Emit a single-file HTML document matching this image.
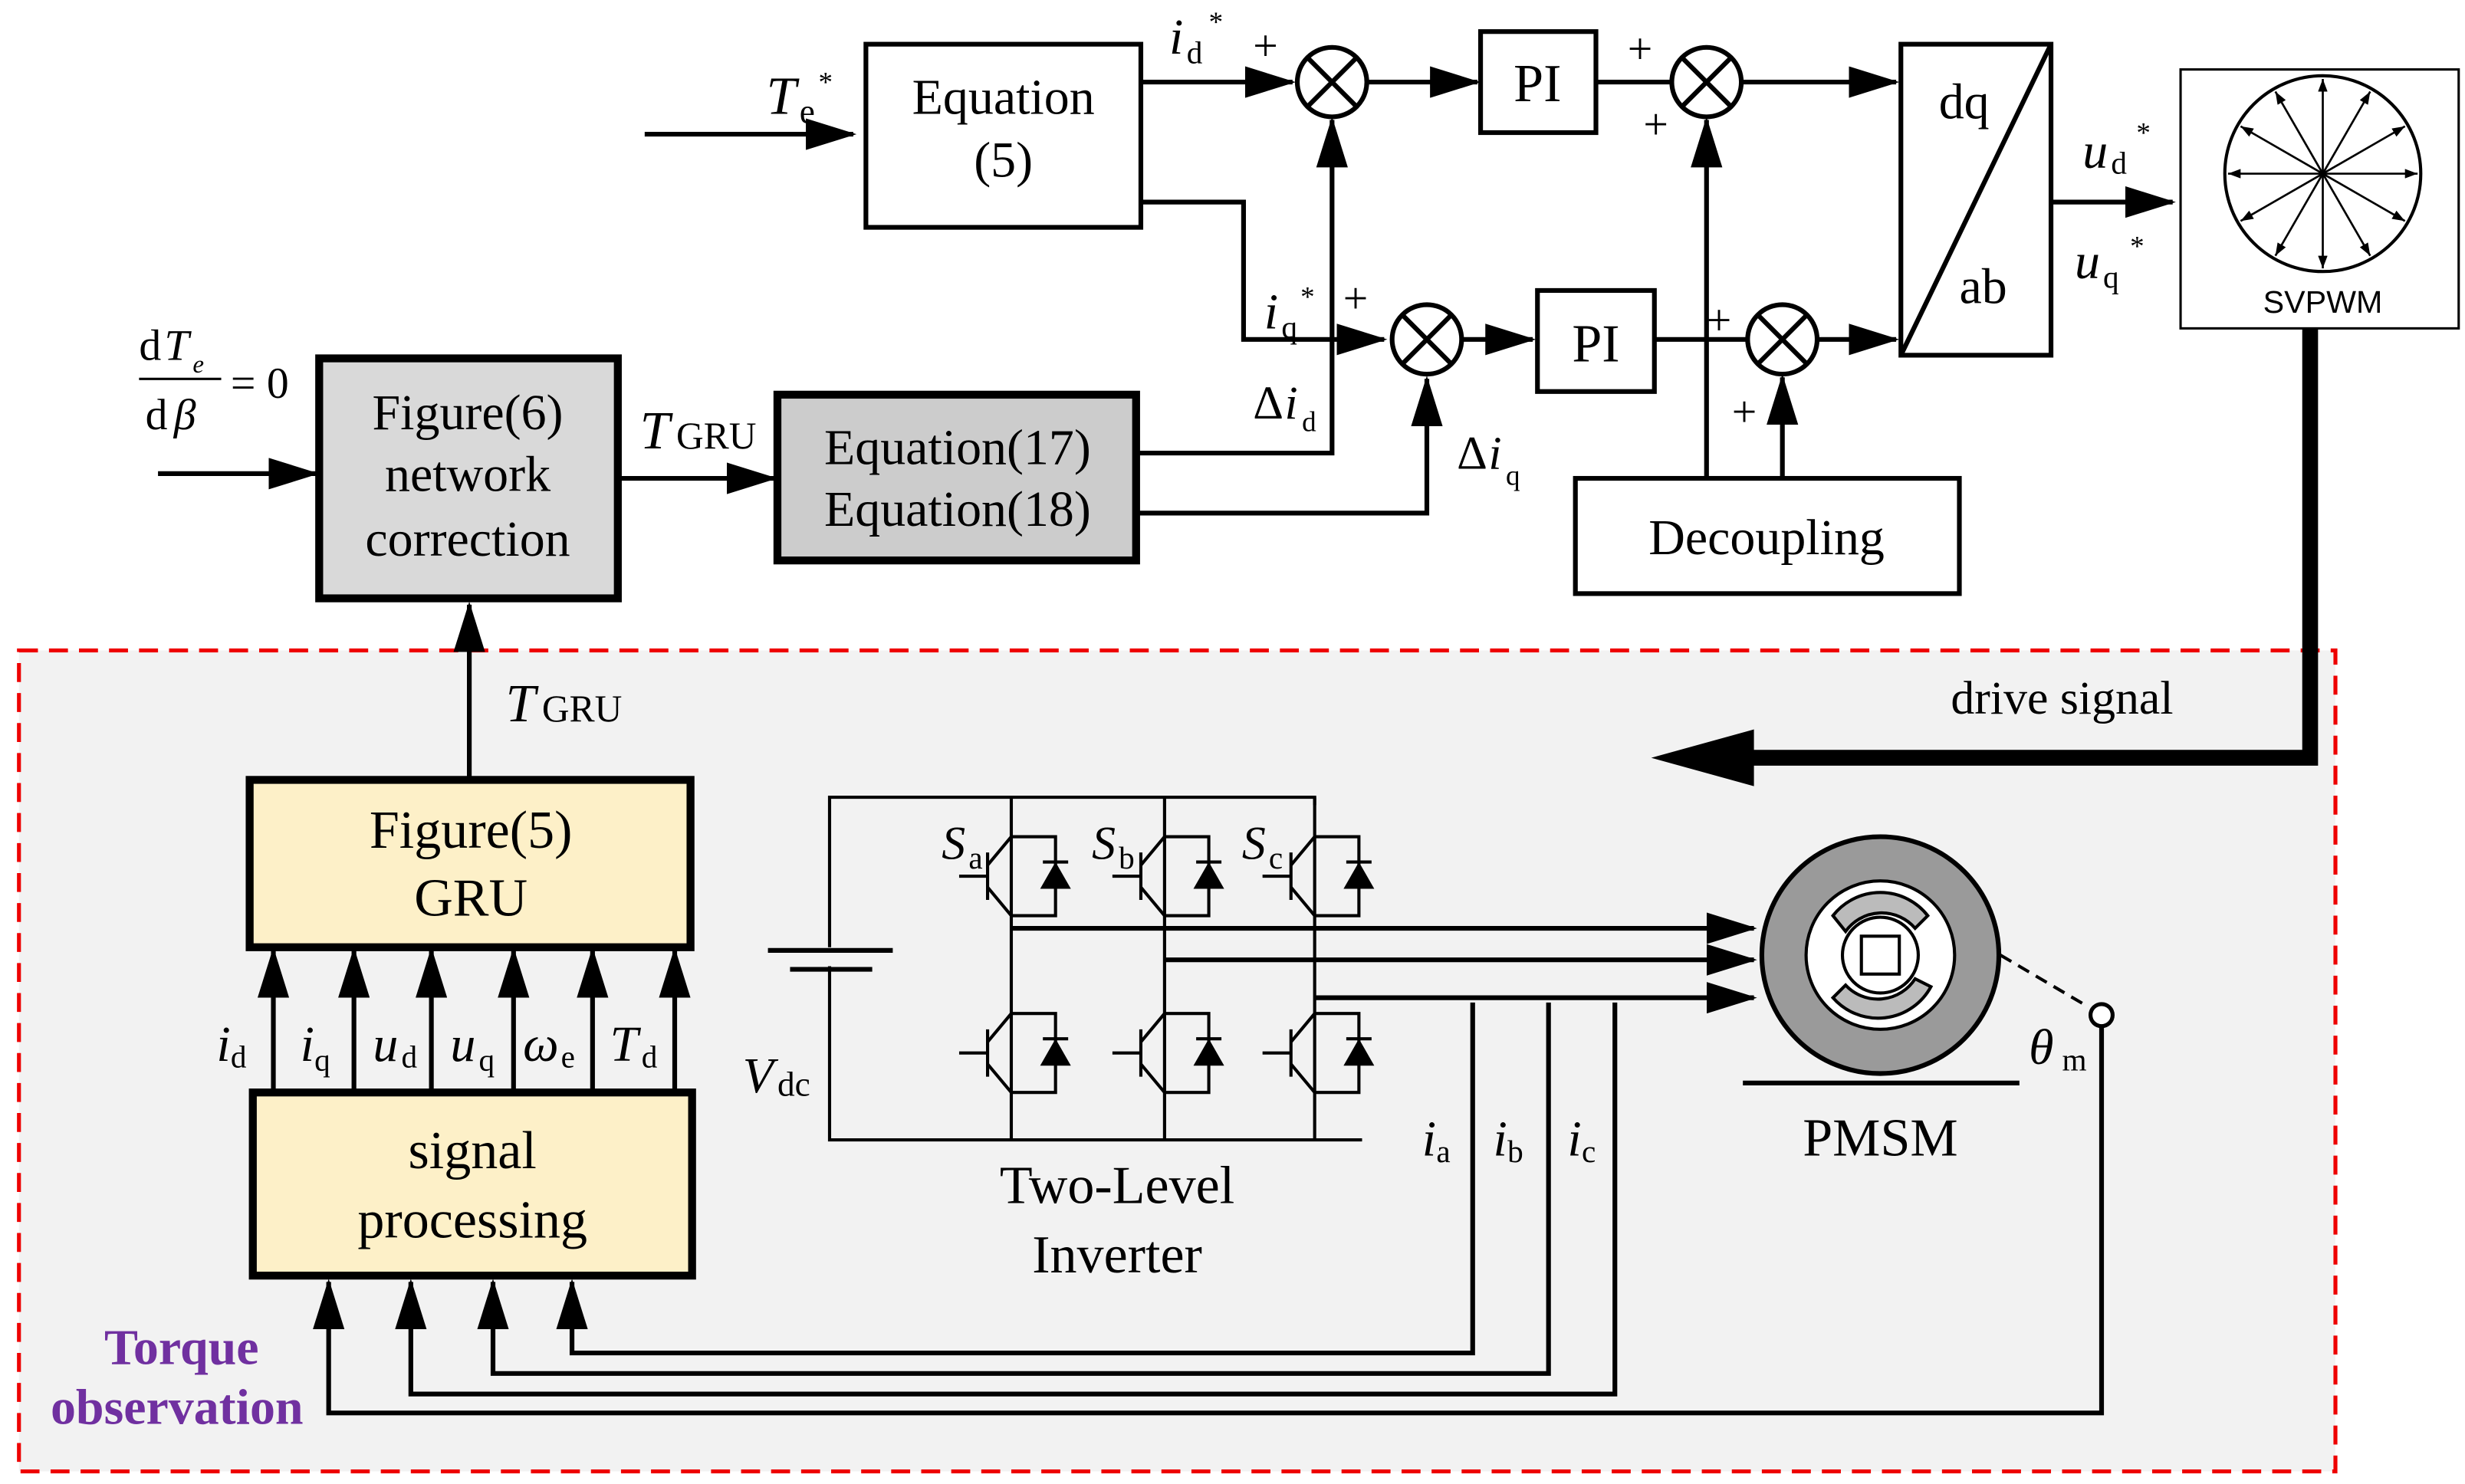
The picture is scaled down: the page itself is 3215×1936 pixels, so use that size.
<!DOCTYPE html>
<html><head><meta charset="utf-8"><style>
html,body{margin:0;padding:0;background:#fff}
svg{display:block}
text{font-family:"Liberation Serif",serif;fill:#000}
</style></head><body>
<svg width="3215" height="1936" viewBox="0 0 1560 940" preserveAspectRatio="none" xmlns="http://www.w3.org/2000/svg">
<defs>
<marker id="A" markerWidth="32" markerHeight="20" refX="30" refY="10" orient="auto" markerUnits="userSpaceOnUse"><path d="M0,0 L32,10 L0,20z" fill="#000"/></marker>
<marker id="s" markerWidth="8" markerHeight="6" refX="8" refY="3" orient="auto" markerUnits="userSpaceOnUse"><path d="M0,0 L8,3 L0,6z" fill="#000"/></marker>
</defs>
<style>.l{stroke:#000;stroke-width:3;fill:none}</style>
<rect x="12" y="412" width="1466" height="520" fill="#f2f2f2" stroke="#e00" stroke-width="2.5" stroke-dasharray="12,7"/>

<line class="l" x1="408" y1="85" x2="540" y2="85" style="marker-end:url(#A)"/>
<text x="485" y="72" font-size="34" font-style="italic">T</text><text x="506" y="78" font-size="22">e</text><text x="518" y="58" font-size="18">*</text>
<rect x="548" y="28" width="174" height="116" fill="#fff" stroke="#000" stroke-width="3"/>
<text x="635" y="72" font-size="32" text-anchor="middle">Equation</text>
<text x="635" y="112" font-size="32" text-anchor="middle">(5)</text>

<line class="l" x1="722" y1="52" x2="818" y2="52" style="marker-end:url(#A)"/>
<text x="740" y="34" font-size="32" font-style="italic">i</text><text x="751" y="40" font-size="20">d</text><text x="765" y="20" font-size="18">*</text>
<text x="793" y="38" font-size="28">+</text>
<g fill="#fff" stroke="#000" stroke-width="3">
<circle cx="843" cy="52" r="22"/><circle cx="1080" cy="52" r="22"/><circle cx="903" cy="215" r="22"/><circle cx="1128" cy="215" r="22"/>
</g>
<g stroke="#000" stroke-width="3">
<path d="M827,36L859,68M859,36L827,68"/><path d="M1064,36L1096,68M1096,36L1064,68"/>
<path d="M887,199L919,231M919,199L887,231"/><path d="M1112,199L1144,231M1144,199L1112,231"/>
</g>
<line class="l" x1="866" y1="52" x2="935" y2="52" style="marker-end:url(#A)"/>
<rect x="937" y="20" width="73" height="64" fill="#fff" stroke="#000" stroke-width="3"/>
<text x="973" y="64" font-size="34" text-anchor="middle">PI</text>
<line class="l" x1="1010" y1="52" x2="1058" y2="52"/>
<text x="1030" y="40" font-size="28">+</text><text x="1040" y="88" font-size="28">+</text>
<line class="l" x1="1103" y1="52" x2="1200" y2="52" style="marker-end:url(#A)"/>
<rect x="1203" y="28" width="95" height="197" fill="#fff" stroke="#000" stroke-width="3"/>
<line class="l" x1="1203" y1="225" x2="1298" y2="28"/>
<text x="1227" y="75" font-size="32">dq</text><text x="1240" y="192" font-size="32">ab</text>

<polyline class="l" points="722,128 787,128 787,215 876,215" style="marker-end:url(#A)"/>
<text x="800" y="208" font-size="32" font-style="italic">i</text><text x="811" y="214" font-size="20">q</text><text x="823" y="194" font-size="18">*</text>
<text x="850" y="198" font-size="28">+</text>
<line class="l" x1="926" y1="215" x2="970" y2="215" style="marker-end:url(#A)"/>
<rect x="973" y="184" width="74" height="64" fill="#fff" stroke="#000" stroke-width="3"/>
<text x="1010" y="229" font-size="34" text-anchor="middle">PI</text>
<line class="l" x1="1047" y1="215" x2="1105" y2="215"/>
<text x="1080" y="212" font-size="28">+</text><text x="1096" y="270" font-size="28">+</text>
<line class="l" x1="1151" y1="215" x2="1200" y2="215" style="marker-end:url(#A)"/>

<polyline class="l" points="720,287 843,287 843,76" style="marker-end:url(#A)"/>
<text x="793" y="265" font-size="30">Δ</text><text x="813" y="265" font-size="30" font-style="italic">i</text><text x="824" y="273" font-size="18">d</text>
<polyline class="l" points="720,325 903,325 903,240" style="marker-end:url(#A)"/>
<text x="922" y="297" font-size="30">Δ</text><text x="942" y="297" font-size="30" font-style="italic">i</text><text x="953" y="307" font-size="18">q</text>

<rect x="997" y="303" width="243" height="73" fill="#fff" stroke="#000" stroke-width="3"/>
<text x="1118" y="351" font-size="32" text-anchor="middle">Decoupling</text>
<line class="l" x1="1080" y1="303" x2="1080" y2="76" style="marker-end:url(#A)"/>
<line class="l" x1="1128" y1="303" x2="1128" y2="239" style="marker-end:url(#A)"/>

<line class="l" x1="1298" y1="128" x2="1375" y2="128" style="marker-end:url(#A)"/>
<text x="1318" y="106" font-size="32" font-style="italic">u</text><text x="1336" y="110" font-size="20">d</text><text x="1352" y="90" font-size="18">*</text>
<text x="1313" y="176" font-size="32" font-style="italic">u</text><text x="1331" y="182" font-size="20">q</text><text x="1348" y="162" font-size="18">*</text>

<rect x="1380" y="44" width="176" height="164" fill="#fff" stroke="#000" stroke-width="1.5"/>
<circle cx="1470" cy="110" r="62" fill="none" stroke="#000" stroke-width="2"/>
<g stroke="#000" stroke-width="1.3" style="marker-end:url(#s)">
<line x1="1470" y1="110" x2="1530" y2="110"/><line x1="1470" y1="110" x2="1522" y2="80"/><line x1="1470" y1="110" x2="1500" y2="58"/>
<line x1="1470" y1="110" x2="1470" y2="50"/><line x1="1470" y1="110" x2="1440" y2="58"/><line x1="1470" y1="110" x2="1418" y2="80"/>
<line x1="1470" y1="110" x2="1410" y2="110"/><line x1="1470" y1="110" x2="1418" y2="140"/><line x1="1470" y1="110" x2="1440" y2="162"/>
<line x1="1470" y1="110" x2="1470" y2="170"/><line x1="1470" y1="110" x2="1500" y2="162"/><line x1="1470" y1="110" x2="1522" y2="140"/>
</g>
<text x="1470" y="198" font-size="20" text-anchor="middle" style="font-family:'Liberation Sans',sans-serif">SVPWM</text>

<polyline points="1462,208 1462,480 1090,480" fill="none" stroke="#000" stroke-width="10"/>
<path d="M1045,480 L1110,462 L1110,498z" fill="#000"/>
<text x="1305" y="452" font-size="30" text-anchor="middle">drive signal</text>

<text x="88" y="228" font-size="28">d</text><text x="104" y="228" font-size="28" font-style="italic">T</text><text x="122" y="236" font-size="16" font-style="italic">e</text>
<line x1="88" y1="240" x2="140" y2="240" stroke="#000" stroke-width="1.5"/>
<text x="92" y="272" font-size="28">d</text><text x="110" y="272" font-size="28" font-style="italic">β</text>
<text x="146" y="252" font-size="28">= 0</text>
<line class="l" x1="100" y1="300" x2="200" y2="300" style="marker-end:url(#A)"/>

<rect x="202" y="227" width="189" height="152" fill="#d9d9d9" stroke="#000" stroke-width="5"/>
<text x="296" y="272" font-size="32" text-anchor="middle">Figure(6)</text>
<text x="296" y="311" font-size="32" text-anchor="middle">network</text>
<text x="296" y="352" font-size="32" text-anchor="middle">correction</text>
<line class="l" x1="391" y1="303" x2="490" y2="303" style="marker-end:url(#A)"/>
<text x="405" y="284" font-size="34" font-style="italic">T</text><text x="428" y="284" font-size="24">GRU</text>
<rect x="492" y="250" width="227" height="105" fill="#cccccc" stroke="#000" stroke-width="5"/>
<text x="606" y="294" font-size="32" text-anchor="middle">Equation(17)</text>
<text x="606" y="333" font-size="32" text-anchor="middle">Equation(18)</text>

<line class="l" x1="297" y1="493" x2="297" y2="383" style="marker-end:url(#A)"/>
<text x="320" y="457" font-size="34" font-style="italic">T</text><text x="343" y="457" font-size="24">GRU</text>
<rect x="158" y="494" width="279" height="106" fill="#fdf0c8" stroke="#000" stroke-width="5"/>
<text x="298" y="537" font-size="34" text-anchor="middle">Figure(5)</text>
<text x="298" y="580" font-size="34" text-anchor="middle">GRU</text>
<g class="l" style="marker-end:url(#A)">
<line x1="173" y1="690" x2="173" y2="602"/><line x1="224" y1="690" x2="224" y2="602"/><line x1="273" y1="690" x2="273" y2="602"/>
<line x1="325" y1="690" x2="325" y2="602"/><line x1="375" y1="690" x2="375" y2="602"/><line x1="427" y1="690" x2="427" y2="602"/>
</g>
<g font-size="32" font-style="italic">
<text x="137" y="672">i</text><text x="190" y="672">i</text><text x="236" y="672">u</text><text x="285" y="672">u</text><text x="331" y="672">ω</text><text x="386" y="672">T</text>
</g>
<g font-size="20"><text x="146" y="676">d</text><text x="199" y="678">q</text><text x="254" y="676">d</text><text x="303" y="678">q</text><text x="355" y="676">e</text><text x="406" y="676">d</text></g>
<rect x="160" y="692" width="278" height="116" fill="#fdf0c8" stroke="#000" stroke-width="5"/>
<text x="299" y="740" font-size="34" text-anchor="middle">signal</text>
<text x="299" y="784" font-size="34" text-anchor="middle">processing</text>

<polyline class="l" points="932,635 932,857 362,857 362,812" style="marker-end:url(#A)"/>
<polyline class="l" points="980,635 980,870 312,870 312,812" style="marker-end:url(#A)"/>
<polyline class="l" points="1022,635 1022,883 260,883 260,812" style="marker-end:url(#A)"/>
<polyline class="l" points="1330,650 1330,895 208,895 208,812" style="marker-end:url(#A)"/>
<g font-size="32" font-style="italic"><text x="900" y="732">i</text><text x="945" y="732">i</text><text x="992" y="732">i</text></g>
<g font-size="20"><text x="909" y="736">a</text><text x="954" y="736">b</text><text x="1001" y="736">c</text></g>

<text x="66" y="864" font-size="32" font-weight="bold" style="fill:#7030a0">Torque</text>
<text x="32" y="902" font-size="32" font-weight="bold" style="fill:#7030a0">observation</text>

<g stroke="#000" stroke-width="2" fill="none">
<polyline points="525,600 525,505 832,505 832,510"/>
<polyline points="525,612 525,722 862,722"/>
<line x1="640" y1="505" x2="640" y2="722"/><line x1="737" y1="505" x2="737" y2="722"/><line x1="832" y1="505" x2="832" y2="722"/>
</g>
<line x1="486" y1="602" x2="565" y2="602" stroke="#000" stroke-width="3"/>
<line x1="500" y1="614" x2="552" y2="614" stroke="#000" stroke-width="3"/>
<text x="470" y="692" font-size="32" font-style="italic">V</text><text x="492" y="694" font-size="22">dc</text>
<g id="sw" stroke="#000" stroke-width="2" fill="none">
<line x1="625" y1="540" x2="625" y2="570"/><line x1="607" y1="555" x2="625" y2="555"/>
<line x1="625" y1="548" x2="640" y2="530"/><line x1="625" y1="562" x2="640" y2="580"/>
<polyline points="640,530 668,530 668,580 640,580"/>
<path d="M660,562 L676,562 L668,548z" fill="#000"/><line x1="660" y1="546" x2="676" y2="546"/>
</g>
<use href="#sw" x="97"/><use href="#sw" x="192"/>
<use href="#sw" y="112"/><use href="#sw" x="97" y="112"/><use href="#sw" x="192" y="112"/>
<g font-size="30" font-style="italic"><text x="596" y="544">S</text><text x="691" y="544">S</text><text x="786" y="544">S</text></g>
<g font-size="20"><text x="613" y="550">a</text><text x="708" y="550">b</text><text x="803" y="550">c</text></g>
<line class="l" x1="640" y1="588" x2="1110" y2="588" style="marker-end:url(#A)"/>
<line class="l" x1="737" y1="608" x2="1110" y2="608" style="marker-end:url(#A)"/>
<line class="l" x1="832" y1="632" x2="1110" y2="632" style="marker-end:url(#A)"/>
<text x="707" y="762" font-size="34" text-anchor="middle">Two-Level</text>
<text x="707" y="806" font-size="34" text-anchor="middle">Inverter</text>

<circle cx="1190" cy="605" r="75" fill="#9a9a9a" stroke="#000" stroke-width="3"/>
<circle cx="1190" cy="605" r="47" fill="#fff" stroke="#000" stroke-width="2"/>
<path d="M1160,580 A38,38 0 0 1 1220,580 L1212,588 A28,28 0 0 0 1168,590z" fill="#bbb" stroke="#000" stroke-width="2"/>
<path d="M1222,625 A38,38 0 0 1 1160,632 L1168,624 A28,28 0 0 0 1212,620z" fill="#bbb" stroke="#000" stroke-width="2"/>
<circle cx="1190" cy="605" r="24" fill="#fff" stroke="#000" stroke-width="2"/>
<rect x="1178" y="593" width="24" height="24" fill="#fff" stroke="#000" stroke-width="2"/>
<line x1="1103" y1="686" x2="1278" y2="686" stroke="#000" stroke-width="3"/>
<text x="1190" y="732" font-size="34" text-anchor="middle">PMSM</text>
<line x1="1266" y1="605" x2="1322" y2="638" stroke="#000" stroke-width="2" stroke-dasharray="8,5"/>
<circle cx="1330" cy="643" r="7" fill="#fff" stroke="#000" stroke-width="2.5"/>
<text x="1284" y="674" font-size="32" font-style="italic">θ</text><text x="1305" y="678" font-size="20">m</text>
</svg>
</body></html>
